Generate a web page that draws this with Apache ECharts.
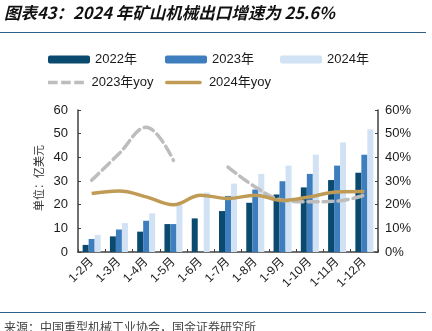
<!DOCTYPE html>
<html>
<head>
<meta charset="utf-8">
<script src="https://cdn.jsdelivr.net/npm/echarts@6/dist/echarts.min.js"></script>
<style>
  html, body { margin: 0; padding: 0; background: #fff; }
  #chart { width: 432px; height: 331px; }
</style>
</head>
<body>
<div id="chart"></div>
<script>
// Mining machinery exports, cumulative by period (100M USD) and YoY growth (%)
const categories = ['1-2月', '1-3月', '1-4月', '1-5月', '1-6月', '1-7月', '1-8月', '1-9月', '1-10月', '1-11月', '1-12月'];
const exports2022 = [3.0, 6.6, 8.6, 11.8, 14.2, 17.3, 20.8, 24.3, 27.3, 30.4, 33.5];
const exports2023 = [5.5, 9.5, 13.2, 11.8, null, 23.7, 26.4, 29.9, 33.0, 36.5, 41.1];
const exports2024 = [7.2, 12.2, 16.3, 20.0, 25.1, 28.9, 33.0, 36.5, 41.1, 46.3, 51.8];
const yoy2023 = [30.3, 41.5, 52.7, 38.7, null, 35.9, 27.5, 21.9, 21.2, 21.5, 24.0];
const yoy2024 = [24.7, 25.8, 23.3, 20.0, 24.0, 22.6, 24.0, 21.8, 23.3, 25.4, 25.6];
const leftTicks = [0, 10, 20, 30, 40, 50, 60];

const FONT = '"Liberation Sans", Arial, "Noto Sans CJK SC", sans-serif';
const CJK = '"Noto Sans CJK SC", sans-serif';
const C2022 = '#0B4A6F', C2023 = '#3E7EBE', C2024 = '#D0E2F3';
const GOLD = '#BF9B55', GRAY = '#BDBDBD', AXIS = '#404040';

// legend swatches for the two growth lines
const DASH_ICON = 'path://M0,0h11v4h-11z M15,0h11v4h-11z M30,0h11v4h-11z';
const SOLID_ICON = 'path://M2,0h38a2,2 0 0 1 0,4h-38a2,2 0 0 1 0,-4z';

const chart = echarts.init(document.getElementById('chart'), null, { renderer: 'canvas' });

const legendText = { fontFamily: FONT, fontSize: 13, color: '#1a1a1a' };
function legendItem(name, left, top, icon, w, h) {
  const item = icon ? { name: name, icon: icon } : name;
  return {
    data: [item], left: left, top: top, itemWidth: w || 42, itemHeight: h || 8,
    itemGap: 0, padding: 0, textStyle: legendText, selectedMode: false
  };
}

const barBase = { type: 'bar', barWidth: 6, barGap: '0%', yAxisIndex: 0 };

chart.setOption({
  animation: false,
  backgroundColor: '#fff',
  title: {
    text: '图表43：2024 年矿山机械出口增速为 25.6%',
    left: 4, top: 4, padding: 0,
    textStyle: { fontFamily: CJK, fontSize: 16.5, fontWeight: 'bold', fontStyle: 'italic', color: '#111' }
  },
  graphic: [
    { type: 'line', shape: { x1: 0, y1: 32.5, x2: 426, y2: 32.5 }, style: { stroke: '#2E5E86', lineWidth: 1 } },
    { type: 'line', shape: { x1: 0, y1: 312.5, x2: 426, y2: 312.5 }, style: { stroke: '#2E5E86', lineWidth: 1 } },
    { type: 'text', left: 4, top: 321, style: { text: '来源：中国重型机械工业协会，国金证券研究所', font: '12px ' + CJK, fill: '#444' } },
    // unit label of the left axis, read bottom to top
    { type: 'text', x: 39, y: 178, rotation: Math.PI / 2,
      style: { text: '单位：亿美元', font: '11px ' + CJK, fill: '#333', align: 'center', verticalAlign: 'middle' } }
  ],
  legend: [
    legendItem('2022年', 48, 53),
    legendItem('2023年', 165, 53),
    legendItem('2024年', 280, 53),
    legendItem('2023年yoy', 48, 76, DASH_ICON, 41, 3.5),
    legendItem('2024年yoy', 165, 76, SOLID_ICON, 41, 3.5)
  ],
  grid: { left: 78, right: 54, top: 110, bottom: 79, containLabel: false },
  xAxis: {
    type: 'category', data: categories, boundaryGap: true,
    axisLine: { lineStyle: { color: AXIS, width: 1.5 } },
    axisTick: { show: true, inside: true, length: 3, alignWithLabel: false, lineStyle: { color: AXIS } },
    axisLabel: { rotate: 45, interval: 0, margin: 8, fontFamily: FONT, fontSize: 12, color: '#1a1a1a' }
  },
  yAxis: [
    {
      type: 'value', min: 0, max: 60, interval: 10,
      axisLine: { show: true, lineStyle: { color: AXIS, width: 1.5 } },
      axisTick: { show: true, inside: true, length: 3, lineStyle: { color: AXIS } },
      axisLabel: { margin: 10, fontFamily: FONT, fontSize: 13, color: '#1a1a1a',
        formatter: v => leftTicks.includes(v) ? String(v) : '' },
      splitLine: { show: false }
    },
    {
      type: 'value', min: 0, max: 60, interval: 10, position: 'right',
      axisLine: { show: true, lineStyle: { color: AXIS, width: 1.5 } },
      axisTick: { show: true, inside: true, length: 3, lineStyle: { color: AXIS } },
      axisLabel: { margin: 7, fontFamily: FONT, fontSize: 13, color: '#1a1a1a', formatter: v => v + '%' },
      splitLine: { show: false }
    }
  ],
  series: [
    Object.assign({ name: '2022年', data: exports2022, itemStyle: { color: C2022 } }, barBase),
    Object.assign({ name: '2023年', data: exports2023, itemStyle: { color: C2023 } }, barBase),
    Object.assign({ name: '2024年', data: exports2024, itemStyle: { color: C2024 } }, barBase),
    {
      name: '2023年yoy', type: 'line', yAxisIndex: 1, data: yoy2023, smooth: 0.4,
      connectNulls: false, symbol: 'none', z: 5,
      lineStyle: { color: GRAY, width: 3.5, type: [10, 5], cap: 'round' },
      itemStyle: { color: GRAY }
    },
    {
      name: '2024年yoy', type: 'line', yAxisIndex: 1, data: yoy2024, smooth: 0.4,
      symbol: 'none', z: 6,
      lineStyle: { color: GOLD, width: 3.5 },
      itemStyle: { color: GOLD }
    }
  ]
});
</script>
</body>
</html>
